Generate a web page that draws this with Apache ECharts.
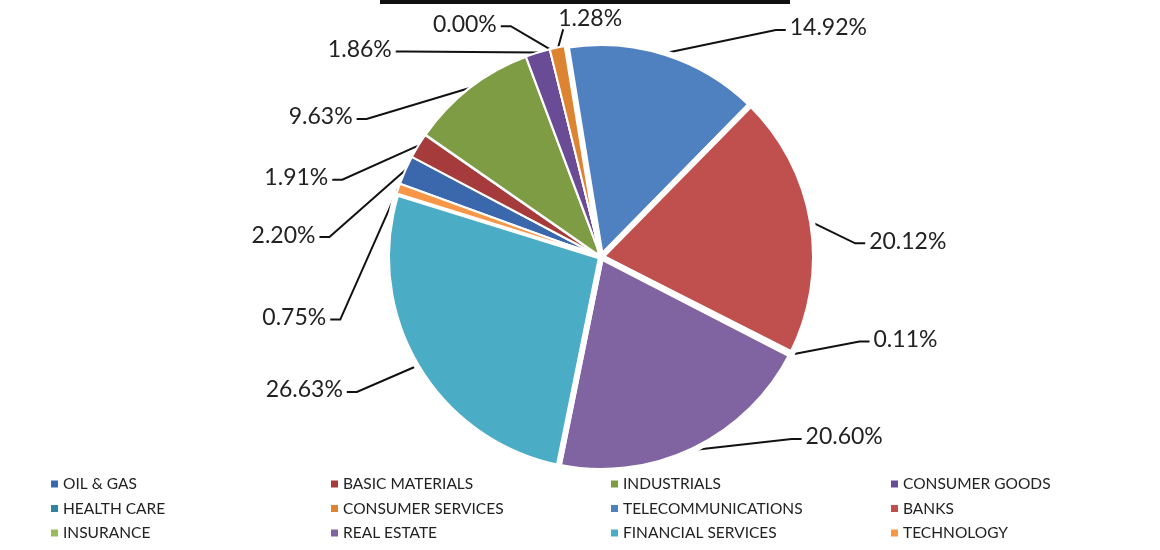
<!DOCTYPE html>
<html>
<head>
<meta charset="utf-8">
<script src="https://cdn.jsdelivr.net/npm/echarts@6/dist/echarts.min.js"></script>
<style>
html,body{margin:0;padding:0;background:#fff;}
#chart{width:1160px;height:550px;}
</style>
</head>
<body>
<div id="chart"></div>
<script>
const categories = ['OIL & GAS','BASIC MATERIALS','INDUSTRIALS','CONSUMER GOODS','HEALTH CARE','CONSUMER SERVICES','TELECOMMUNICATIONS','BANKS','INSURANCE','REAL ESTATE','FINANCIAL SERVICES','TECHNOLOGY'];
const shares = [2.20, 1.91, 9.63, 1.86, 0.00, 1.28, 14.92, 20.12, 0.11, 20.60, 26.63, 0.75];

const colors = ['#3B68AD','#A53B3B','#7E9C43','#6A4C96','#31849B','#DC8432','#4F81C0','#C0504D','#9BBB59','#8064A2','#4BACC6','#F79646'];
// white separation around each slice (style only)
const sliceBorder = [2, 2, 2.5, 2, 2, 2, 6, 6, 2, 6, 6, 2];
// label placement relative to the slice's leader start (style only): [dx, dy, side]
const labelShift = [
  [-90, 65, 'L'], [-90, 32, 'L'], [-117, 29, 'L'], [-146, -3, 'L'],
  [-53, -25, 'L'], [0, -29, 'T'], [124, -25, 'R'], [57, 19, 'R'],
  [82, -15, 'R'], [112, -13, 'R'], [-74, 24, 'L'], [-72, 129, 'L']
];
const TICK = 10, GAP = 4;

const chart = echarts.init(document.getElementById('chart'), null, {renderer:'canvas'});

const pieData = categories.map((name, i) => ({
  name: name,
  value: shares[i],
  itemStyle: {color: colors[i], borderWidth: sliceBorder[i]}
}));

const legendCols = [
  ['OIL & GAS','HEALTH CARE','INSURANCE'],
  ['BASIC MATERIALS','CONSUMER SERVICES','REAL ESTATE'],
  ['INDUSTRIALS','TELECOMMUNICATIONS','FINANCIAL SERVICES'],
  ['CONSUMER GOODS','BANKS','TECHNOLOGY']
];
const legendX = [44, 324, 604, 884];

function labelLayout(params) {
  const i = params.dataIndex;
  const p0 = params.labelLinePoints ? params.labelLinePoints[0] : [0, 0];
  const s = labelShift[i];
  const ax = p0[0] + s[0], ay = p0[1] + s[1];
  let pts, align;
  if (s[2] === 'L') {
    align = 'right';
    const ex = ax + GAP;
    pts = [p0, [ex + TICK, ay + 2], [ex, ay + 2]];
  } else if (s[2] === 'R') {
    align = 'left';
    const ex = ax - GAP;
    pts = [p0, [ex - TICK, ay + 2], [ex, ay + 2]];
  } else {
    align = 'left';
    const e = [ax + 5, ay + 11];
    pts = [p0, e, e];
  }
  return {x: ax, y: ay, align: align, verticalAlign: 'middle', labelLinePoints: pts};
}

const option = {
  backgroundColor: '#ffffff',
  animation: false,
  graphic: [{
    type: 'rect', left: 380, top: 0,
    shape: {width: 410, height: 4},
    style: {fill: '#111'}
  }],
  legend: legendCols.map((col, k) => ({
    data: col,
    orient: 'vertical',
    left: legendX[k],
    top: 470,
    height: 90,
    itemWidth: 9,
    itemHeight: 9,
    itemGap: 6.5,
    icon: 'rect',
    selectedMode: false,
    textStyle: {fontFamily: 'Lato', fontSize: 15.5, lineHeight: 18, color: '#222', padding: [0,0,0,-1]}
  })),
  series: [{
    type: 'pie',
    center: [601, 257],
    radius: 214,
    startAngle: 160,
    clockwise: true,
    avoidLabelOverlap: false,
    minShowLabelAngle: 0,
    itemStyle: {borderColor: '#fff'},
    label: {
      show: true,
      position: 'outside',
      formatter: p => p.value.toFixed(2) + '%',
      fontFamily: 'Lato',
      fontSize: 23,
      color: '#222'
    },
    labelLine: {show: true, length: 10, length2: 10, lineStyle: {color: '#111', width: 2}, smooth: false},
    labelLayout: labelLayout,
    emphasis: {disabled: true},
    data: pieData
  }]
};
chart.setOption(option);
</script>
</body>
</html>
